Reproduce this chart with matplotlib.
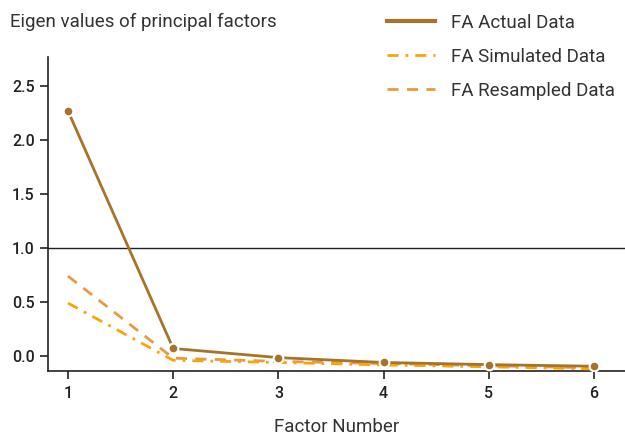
import matplotlib.pyplot as plt

# Values
factors = [1, 2, 3, 4, 5, 6]
actual = [2.27, 0.07, -0.015, -0.06, -0.08, -0.095]
simulated = [0.49, -0.04, -0.06, -0.083, -0.10, -0.12]
resampled = [0.74, -0.02, -0.05, -0.07, -0.09, -0.11]

C_ACTUAL = "#a5732a"
C_SIM = "#f9a50a"
C_RES = "#e59a45"

plt.rcParams['font.family'] = ['Roboto', 'DejaVu Sans']

fig = plt.figure(figsize=(6.25, 4.37), dpi=100)
ax = fig.add_axes([48 / 625, 66 / 437, 577 / 625, 314 / 437])

ax.axhline(1.0, color="#222222", lw=1.0, zorder=1)

ax.plot(factors, resampled, color=C_RES, lw=2, ls=(0, (4, 3)),
        label="FA Resampled Data", zorder=2)
ax.plot(factors, simulated, color=C_SIM, lw=2, ls=(0, (4, 2.5, 1, 2.5)),
        label="FA Simulated Data", zorder=3)
ax.plot(factors, actual, color=C_ACTUAL, lw=2, marker="o", ms=7,
        mec="white", mew=1.5, label="FA Actual Data", zorder=4)

ax.set_xlim(0.81, 6.295)
ax.set_ylim(-0.139, 2.77)
ax.set_xticks(factors)
ax.set_yticks([0.0, 0.5, 1.0, 1.5, 2.0, 2.5])
ax.set_yticklabels(["0.0", "0.5", "1.0", "1.5", "2.0", "2.5"])

for s in ["top", "right"]:
    ax.spines[s].set_visible(False)
for s in ["left", "bottom"]:
    ax.spines[s].set_linewidth(1.2)
    ax.spines[s].set_color("#222222")

ax.tick_params(axis="both", length=6, width=1.2, color="#222222",
               labelsize=11.5, labelcolor="#222222")
ax.tick_params(axis="x", pad=5)
for lab in ax.get_xticklabels() + ax.get_yticklabels():
    lab.set_fontweight("medium")

ax.set_xlabel("Factor Number", fontsize=13.5, color="#333333", labelpad=12)
fig.text(10 / 625, 1 - 22 / 437, "Eigen values of principal factors",
         fontsize=13.5, color="#333333", va="center", ha="left")

handles, labels = ax.get_legend_handles_labels()
order = [2, 1, 0]
leg = fig.legend([handles[i] for i in order], [labels[i] for i in order],
                 loc="upper left", bbox_to_anchor=(387 / 625, 1 - 14 / 437),
                 frameon=False, fontsize=13.5, handlelength=2.56,
                 labelspacing=0.85, handletextpad=0.85, borderpad=0,
                 borderaxespad=0)
for t in leg.get_texts():
    t.set_color("#333333")
for h in leg.legend_handles:
    h.set_marker("")
leg.legend_handles[0].set_linewidth(3)

fig.savefig("out.png", dpi=100)
